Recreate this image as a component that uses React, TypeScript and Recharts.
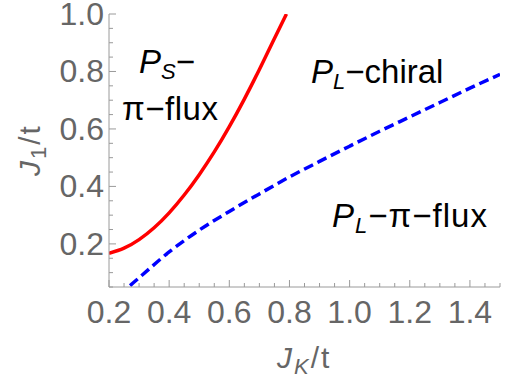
import { LineChart, Line, XAxis, YAxis, Customized } from "recharts";

// phase boundaries
const redX = [0.2, 0.25, 0.3, 0.35, 0.4, 0.45, 0.5, 0.55, 0.6, 0.65, 0.7, 0.75, 0.79];
const redY = [0.167, 0.185, 0.215, 0.256, 0.308, 0.37, 0.441, 0.52, 0.608, 0.704, 0.807, 0.915, 1.0];
const blueX = [0.27, 0.3, 0.4, 0.5, 0.6, 0.7, 0.8, 0.9, 1.0, 1.1, 1.2, 1.3, 1.4, 1.5];
const blueY = [0.055, 0.082, 0.172, 0.248, 0.313, 0.374, 0.433, 0.487, 0.54, 0.592, 0.642, 0.692, 0.742, 0.79];

const xMajor = [0.2, 0.4, 0.6, 0.8, 1.0, 1.2, 1.4];
const yMajor = [0.2, 0.4, 0.6, 0.8, 1.0];

const xTicks = Array.from({ length: 27 }, (_, i) => +(0.2 + i * 0.05).toFixed(2));
const yTicks = Array.from({ length: 20 }, (_, i) => +(0.05 + i * 0.05).toFixed(2));

const redData = redX.map((x, i) => ({ x, y: redY[i] }));
const blueData = blueX.map((x, i) => ({ x, y: blueY[i] }));

const FRAME = "#9a9a9a";
const LABEL = "#666666";
const FONT = "'Liberation Sans', Arial, sans-serif";

const isMajor = (v: number, list: number[]) => list.some((m) => Math.abs(m - v) < 1e-6);

const BottomTick = (props: any) => {
  const { x, y, payload } = props;
  const major = isMajor(payload.value, xMajor);
  return (
    <g>
      <line x1={x} x2={x} y1={y} y2={y - (major ? 7 : 4)} stroke={FRAME} />
      {major && (
        <text x={x} y={y + 36} textAnchor="middle" fill={LABEL} fontSize={32} fontFamily={FONT}>
          {payload.value.toFixed(1)}
        </text>
      )}
    </g>
  );
};

const TopTick = (props: any) => {
  const { x, y, payload } = props;
  const major = isMajor(payload.value, xMajor);
  return <line x1={x} x2={x} y1={y} y2={y + (major ? 7 : 4)} stroke={FRAME} />;
};

const LeftTick = (props: any) => {
  const { x, y, payload } = props;
  const major = isMajor(payload.value, yMajor);
  return (
    <g>
      <line x1={x} x2={x + (major ? 7 : 4)} y1={y} y2={y} stroke={FRAME} />
      {major && (
        <text x={x - 5} y={y + 11} textAnchor="end" fill={LABEL} fontSize={32} fontFamily={FONT}>
          {payload.value.toFixed(1)}
        </text>
      )}
    </g>
  );
};

const RightTick = (props: any) => {
  const { x, y, payload } = props;
  const major = isMajor(payload.value, yMajor);
  return <line x1={x} x2={x - (major ? 7 : 4)} y1={y} y2={y} stroke={FRAME} />;
};

const Texts = () => (
  <g fontFamily={FONT} fontSize={33}>
    <text x={139} y={73} fill="#000">
      <tspan fontStyle="italic">P</tspan>
      <tspan fontStyle="italic" fontSize={22} dy={6}>S</tspan>
      <tspan dy={-6}>−</tspan>
    </text>
    <text x={122} y={120} fill="#000" letterSpacing={0.5}>π−flux</text>
    <text x={311} y={83} fill="#000">
      <tspan fontStyle="italic">P</tspan>
      <tspan fontStyle="italic" fontSize={22} dy={6}>L</tspan>
      <tspan dy={-6}>−chiral</tspan>
    </text>
    <text x={332} y={227} fill="#000" letterSpacing={1}>
      <tspan fontStyle="italic">P</tspan>
      <tspan fontStyle="italic" fontSize={22} dy={6}>L</tspan>
      <tspan dy={-6}>−π−flux</tspan>
    </text>
    <text x={277} y={368} fill={LABEL} fontSize={30} letterSpacing={2}>
      <tspan fontStyle="italic">J</tspan>
      <tspan fontStyle="italic" fontSize={22} dy={6}>K</tspan>
      <tspan dy={-6}>/t</tspan>
    </text>
    <text x={40} y={176} fill={LABEL} fontSize={30} letterSpacing={2} transform="rotate(-90 40 176)">
      <tspan fontStyle="italic">J</tspan>
      <tspan fontSize={22} dy={6}>1</tspan>
      <tspan dy={-6}>/t</tspan>
    </text>
  </g>
);

export default function App() {
  return (
    <div style={{ position: "absolute", left: 0, top: 0, background: "#fff" }}>
      <LineChart width={514} height={381} margin={{ top: 14, right: 14, bottom: 0, left: 0 }}>
        <XAxis
          dataKey="x"
          type="number"
          domain={[0.2, 1.5]}
          ticks={xTicks}
          interval={0}
          tickSize={0}
          tickMargin={0}
          tick={<BottomTick />}
          height={94}
          axisLine={{ stroke: FRAME }}
          allowDataOverflow
        />
        <XAxis
          xAxisId="top"
          orientation="top"
          type="number"
          domain={[0.2, 1.5]}
          ticks={xTicks}
          interval={0}
          tickSize={0}
          tickMargin={0}
          tick={<TopTick />}
          height={0}
          axisLine={{ stroke: FRAME }}
          allowDataOverflow
        />
        <YAxis
          type="number"
          domain={[0.05, 1.0]}
          ticks={yTicks}
          interval={0}
          tickSize={0}
          tickMargin={0}
          tick={<LeftTick />}
          width={109}
          axisLine={{ stroke: FRAME }}
          allowDataOverflow
        />
        <YAxis
          yAxisId="right"
          orientation="right"
          type="number"
          domain={[0.05, 1.0]}
          ticks={yTicks}
          interval={0}
          tickSize={0}
          tickMargin={0}
          tick={<RightTick />}
          width={0}
          axisLine={{ stroke: FRAME }}
          allowDataOverflow
        />
        <Line
          data={redData}
          dataKey="y"
          type="monotone"
          stroke="#ff0000"
          strokeWidth={3.5}
          dot={false}
          isAnimationActive={false}
        />
        <Line
          data={blueData}
          dataKey="y"
          type="monotone"
          stroke="#0000ff"
          strokeWidth={3.5}
          strokeDasharray="10 5"
          dot={false}
          isAnimationActive={false}
        />
        <Customized component={Texts} />
      </LineChart>
    </div>
  );
}
